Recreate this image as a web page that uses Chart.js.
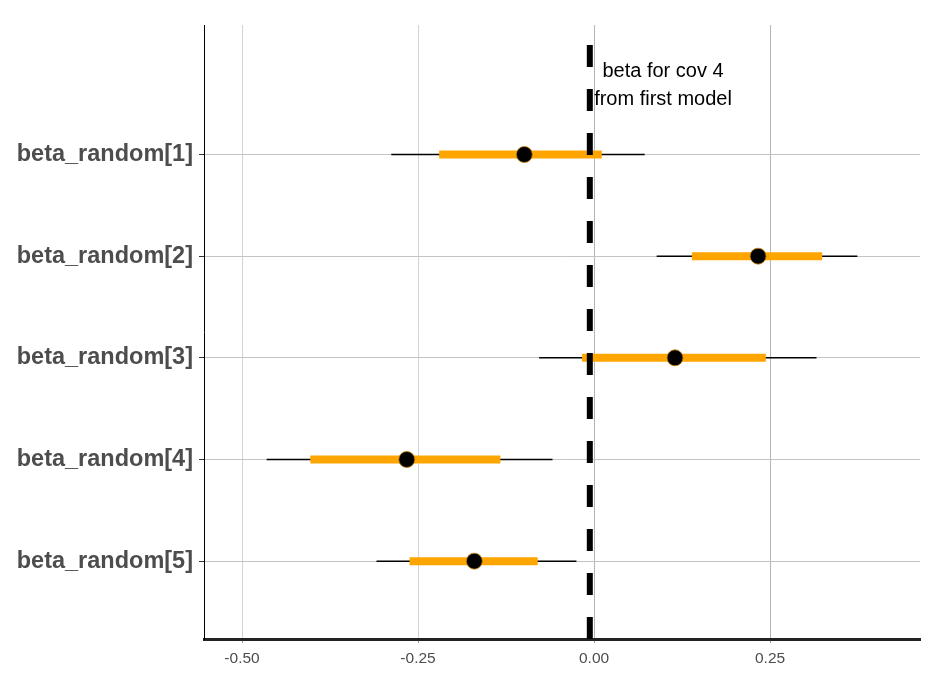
<!DOCTYPE html>
<html>
<head>
<meta charset="utf-8">
<script src="https://cdn.jsdelivr.net/npm/chart.js@4"></script>
<style>
  html, body { margin: 0; padding: 0; background: #fff; }
  #wrap { width: 942px; height: 673px; position: relative; }
</style>
</head>
<body>
<div id="wrap"><canvas id="forest"></canvas></div>
<script>
// values
const params = ["beta_random[1]", "beta_random[2]", "beta_random[3]", "beta_random[4]", "beta_random[5]"];
const mean = [-0.099, 0.233, 0.115, -0.266, -0.170];
const outerLow = [-0.288, 0.089, -0.078, -0.465, -0.309];
const outerHigh = [0.072, 0.374, 0.316, -0.059, -0.025];
const innerLow = [-0.220, 0.139, -0.017, -0.403, -0.262];
const innerHigh = [0.011, 0.324, 0.244, -0.133, -0.080];
const refValue = -0.006;
const xTicks = [-0.5, -0.25, 0, 0.25];
const noteLines = ["beta for cov 4", "from first model"];
const noteX = 0.098;
const noteY = [-0.765, -0.487];

const yMin = -1.274, yMax = 4.766;

const datasets = [];
// reference line (drawn from the bottom up so the dashes line up)
datasets.push({
  data: [{x: refValue, y: yMax}, {x: refValue, y: yMin}],
  showLine: true, borderColor: "#000", borderWidth: 6, borderDash: [22, 22],
  pointRadius: 0, order: 0
});
params.forEach((p, i) => {
  datasets.push({
    data: [{x: outerLow[i], y: i}, {x: outerHigh[i], y: i}],
    showLine: true, borderColor: "#000", borderWidth: 1.5, pointRadius: 0, order: 3
  });
  datasets.push({
    data: [{x: innerLow[i], y: i}, {x: innerHigh[i], y: i}],
    showLine: true, borderColor: "#FFA500", borderWidth: 8, borderCapStyle: "butt", pointRadius: 0, order: 2
  });
  datasets.push({
    data: [{x: mean[i], y: i}],
    pointRadius: 8, pointBackgroundColor: "#000", pointBorderColor: "#c98300", pointBorderWidth: 0.8, order: 1
  });
});

const notePlugin = {
  id: "note",
  afterDatasetsDraw(chart) {
    const ctx = chart.ctx;
    ctx.save();
    ctx.font = "20px 'Liberation Sans', Arial, sans-serif";
    ctx.fillStyle = "#000";
    ctx.textAlign = "center";
    ctx.textBaseline = "alphabetic";
    noteLines.forEach((t, i) => {
      ctx.fillText(t, chart.scales.x.getPixelForValue(noteX), chart.scales.y.getPixelForValue(noteY[i]));
    });
    ctx.restore();
  }
};

new Chart(document.getElementById("forest"), {
  type: "scatter",
  data: { datasets: datasets },
  options: {
    responsive: true,
    maintainAspectRatio: false,
    animation: false,
    layout: { padding: { top: 25, right: 22, left: 0, bottom: 0 } },
    plugins: { legend: { display: false }, tooltip: { enabled: false } },
    scales: {
      x: {
        type: "linear",
        min: -0.554, max: 0.463,
        afterBuildTicks: (s) => { s.ticks = xTicks.map(v => ({value: v})); },
        afterFit: (s) => { s.height = 34; },
        ticks: {
          callback: (v) => v.toFixed(2),
          color: "#4d4d4d",
          font: { family: "'Liberation Sans', Arial, sans-serif", size: 15.5 },
          padding: 6
        },
        grid: {
          color: (c) => (c.tick && c.tick.value < 0 ? "#d4d4d4" : "#b4b4b4"),
          lineWidth: 1,
          tickLength: 4,
          tickColor: "#999"
        },
        border: { display: true, color: "#222", width: 3 }
      },
      y: {
        type: "linear",
        reverse: true,
        min: yMin, max: yMax,
        afterBuildTicks: (s) => { s.ticks = params.map((p, i) => ({value: i})); },
        afterFit: (s) => { s.width = 204; },
        ticks: {
          callback: (v) => params[v],
          color: "#4d4d4d",
          font: { family: "'Liberation Sans', Arial, sans-serif", size: 23.5, weight: "bold" },
          padding: 6
        },
        grid: {
          color: "#c4c4c4",
          lineWidth: 1,
          tickLength: 5,
          tickColor: "#333"
        },
        border: { display: true, color: "#000", width: 1 }
      }
    }
  },
  plugins: [notePlugin]
});
</script>
</body>
</html>
